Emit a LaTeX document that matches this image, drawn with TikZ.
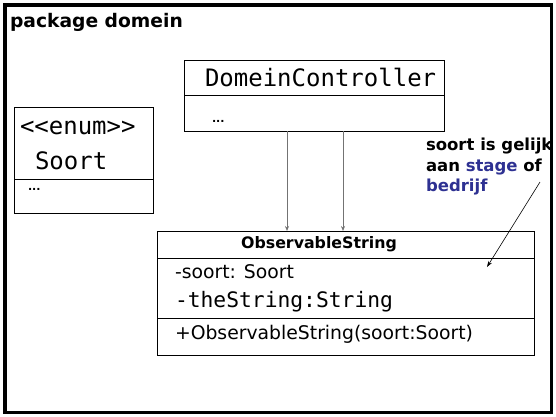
\documentclass[tikz,border=0pt]{standalone}
\usepackage{fontspec}
\setmainfont{DejaVu Sans}
\newfontfamily\monofont{DejaVu Sans Mono}
\usetikzlibrary{arrows.meta,positioning}
\definecolor{annoblue}{HTML}{2E3192}

\begin{document}
\begin{tikzpicture}[
  x=1pt, y=-1pt,
  every node/.style={inner sep=0pt, outer sep=0pt},
  classbox/.style={draw, rectangle, line width=0.9pt, anchor=north west},
  label/.style={anchor=base west, font=\fontsize{18.8}{22}\selectfont},
  monolabel/.style={anchor=base west, font=\monofont\fontsize{24}{28}\selectfont},
  dots/.style={anchor=base west, font=\bfseries\fontsize{11}{13}\selectfont},
  assoc/.style={-{Stealth[length=5pt,width=4pt]}, draw=black!55, line width=0.7pt}
]
\useasboundingbox (0,0) rectangle (556,416);
\draw[line width=3.5pt] (5,5) rectangle (551.5,412.5);
\node[anchor=base west, font=\bfseries\fontsize{18.7}{22}\selectfont] (pkg) at (10,27) {package domein};

% DomeinController
\node[classbox, minimum width=259.5pt, minimum height=70.5pt] (ctrl) at (184.5,60.5) {};
\draw[line width=0.9pt] (184.5,95) -- (444,95);
\node[monolabel] (ctrlname) at (205,86) {DomeinController};
\node[dots] (ctrldots) at (212,122) {...};

% enum Soort
\node[classbox, minimum width=139pt, minimum height=106pt] (enum) at (14,107) {};
\draw[line width=0.9pt] (14,179) -- (153,179);
\node[monolabel] (enumtag) at (20,134) {<<enum>>};
\node[monolabel] (enumname) at (35,169) {Soort};
\node[dots] (enumdots) at (28,190) {...};

% ObservableString
\node[classbox, minimum width=377pt, minimum height=124pt] (obs) at (157,231) {};
\draw[line width=0.9pt] (157,258) -- (534,258);
\draw[line width=0.9pt] (157,318) -- (534,318);
\node[anchor=base, font=\bfseries\fontsize{15.8}{18}\selectfont] (obsname) at (319,248) {ObservableString};
\node[label] (attr1) at (175,278) {-soort: Soort};
\node[anchor=base west, font=\monofont\fontsize{21.3}{24}\selectfont] (attr2) at (175,307) {-theString:String};
\node[label] (ctor) at (175,339) {+ObservableString(soort:Soort)};

% connectors
\coordinate (c1) at (287,131);
\coordinate (c2) at (343,131);
\draw[assoc] (c1) -- (c1 |- obs.north);
\draw[assoc] (c2) -- (c2 |- obs.north);

% annotation
\node[anchor=north west, align=left, font=\bfseries\fontsize{16.5}{20.5}\selectfont] (note) at (426,138)
  {soort is gelijk\\aan \textcolor{annoblue}{stage} of\\\textcolor{annoblue}{bedrijf}};
\coordinate (notetip) at (487,267);
\draw[-{Stealth[length=6pt,width=4pt]}, line width=0.6pt] (540,182) -- (notetip);
\end{tikzpicture}
\end{document}
